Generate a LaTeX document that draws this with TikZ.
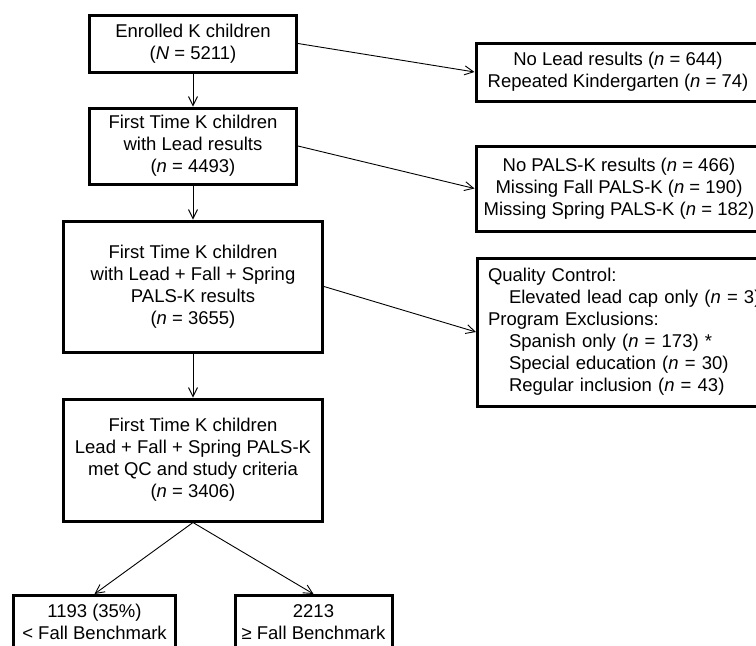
\documentclass[tikz,border=0pt]{standalone}
\usepackage{fontspec}
\setmainfont{Liberation Sans}
\usetikzlibrary{arrows.meta}
\tikzset{
  flowtext/.style={align=center,inner sep=0pt,font=\fontsize{18.5}{22}\selectfont},
  flowbox/.style={flowtext,draw,line width=3pt},
  flowarrow/.style={line width=0.9pt,-{Straight Barb[length=9pt,width=9pt]}},
}
\begin{document}
\begin{tikzpicture}[x=1pt,y=-1pt]
\pgfmathsetmacro{\kmx}{193}
\pgfmathsetmacro{\krx}{618}
\clip (0,0) rectangle (756,646);
% main column
\node[flowbox,minimum width=207pt,minimum height=57pt] (enrol) at (\kmx,43.5) {Enrolled K children\\(\textit{N} = 5211)};
\node[flowbox,minimum width=207pt,minimum height=76pt] (firstk) at (\kmx,146) {First Time K children\\with Lead results\\(\textit{n} = 4493)};
\node[flowbox,minimum width=259pt,minimum height=131pt] (palsk) at (\kmx,286.5) {First Time K children\\with Lead + Fall + Spring\\PALS-K results\\(\textit{n} = 3655)};
\node[flowbox,minimum width=259pt,minimum height=122pt] (studied) at (\kmx,460) {First Time K children\\Lead + Fall + Spring PALS-K\\met QC and study criteria\\(\textit{n} = 3406)};
% exclusions
\node[flowbox,minimum width=284pt,minimum height=58pt] (nolead) at (\krx,72) {No Lead results (\textit{n} = 644)\\Repeated Kindergarten (\textit{n} = 74)};
\node[flowbox,minimum width=286pt,minimum height=85pt] (nopals) at (\krx+1,188.5) {No PALS-K results (\textit{n} = 466)\\Missing Fall PALS-K (\textit{n} = 190)\\Missing Spring PALS-K (\textit{n} = 182)};
\node[flowbox,align=left,inner xsep=10.5pt,text width=276pt,minimum height=148pt,anchor=west] (excl) at (476,332) {Quality Control:\\\hspace*{21pt}Elevated lead cap only (\textit{n} = 3)\\Program Exclusions:\\\hspace*{21pt}Spanish only (\textit{n} = 173) *\\\hspace*{21pt}Special education (\textit{n} = 30)\\\hspace*{21pt}Regular inclusion (\textit{n} = 43)};
% benchmark split
\node[flowbox,minimum width=162pt,minimum height=90pt,anchor=north] (lowfall) at (94.5,594) {};
\node[flowbox,minimum width=157pt,minimum height=90pt,anchor=north] (highfall) at (313.5,594) {};
\node[flowtext,anchor=north,inner ysep=10pt] (lowtxt) at (lowfall.north) {1193 (35\%)\\< Fall Benchmark};
\node[flowtext,anchor=north,inner ysep=10pt] (hightxt) at (highfall.north) {2213\\≥ Fall Benchmark};
% arrows
\foreach \ka/\kb in {enrol/firstk,firstk/palsk,palsk/studied}{\draw[flowarrow](\ka.south)--(\kb.north);}
\foreach \ka/\kb in {enrol/nolead,firstk/nopals,palsk/excl}{\draw[flowarrow](\ka.east)--(\kb.west);}
\foreach \kb in {lowfall,highfall}{\draw[flowarrow](studied.south)--(\kb.north);}
\end{tikzpicture}
\end{document}
